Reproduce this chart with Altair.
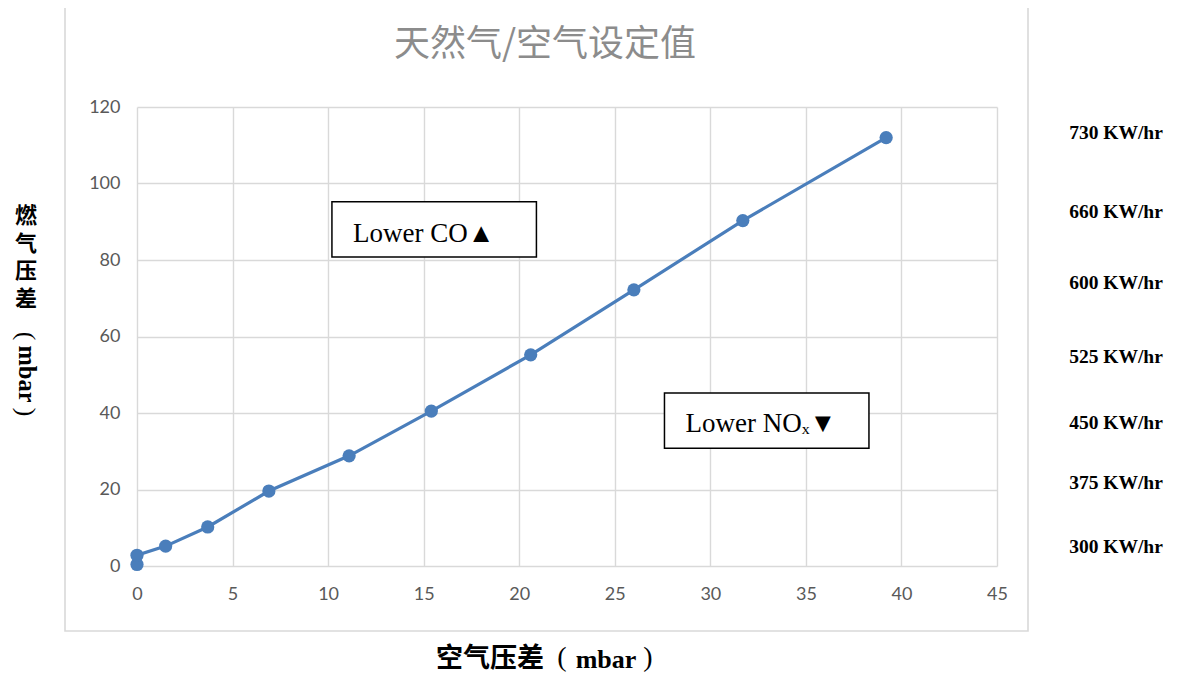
import altair as alt
import pandas as pd

# ---- data ----
air_dp = [0, 0, 1.5, 3.7, 6.9, 11.1, 15.4, 20.6, 26.0, 31.7, 39.2]
gas_dp = [0.4, 2.8, 5.2, 10.2, 19.6, 28.8, 40.5, 55.2, 72.2, 90.3, 112.0]

kw_labels = ["730 KW/hr", "660 KW/hr", "600 KW/hr", "525 KW/hr",
             "450 KW/hr", "375 KW/hr", "300 KW/hr"]
kw_label_y = [113.2, 92.5, 74.0, 54.6, 37.4, 21.7, 5.0]

note_text = ["Lower CO▲", "Lower NOₓ▼"]
note_x1 = [10.2, 27.6]
note_x2 = [20.9, 38.3]
note_y1 = [95.2, 45.2]
note_y2 = [80.8, 30.8]
note_tx = [11.3, 28.7]
note_ty = [86.8, 37.2]

x_ticks = [0, 5, 10, 15, 20, 25, 30, 35, 40, 45]
y_ticks = [0, 20, 40, 60, 80, 100, 120]

TITLE = "天然气/空气设定值"
X_TITLE_CJK = "空气压差"
Y_TITLE_CHARS = ["燃", "气", "压", "差"]
UNIT = "mbar"

BLUE = "#4a7ebb"
GRID = "#d9d9d9"

df = pd.DataFrame({"air": air_dp, "gas": gas_dp, "idx": list(range(len(air_dp)))})
kw_df = pd.DataFrame({"label": kw_labels, "ky": kw_label_y})
note_df = pd.DataFrame({"text": note_text, "x1": note_x1, "x2": note_x2,
                        "y1": note_y1, "y2": note_y2, "tx": note_tx, "ty": note_ty})

xscale = alt.Scale(domain=[0, 45], nice=False, zero=False)
yscale = alt.Scale(domain=[0, 120], nice=False, zero=False)

xaxis = alt.Axis(values=x_ticks, title=None, grid=True, gridColor=GRID, gridWidth=1.4,
                 domain=False, ticks=False, labelFont="Lato", labelFontSize=18,
                 labelColor="#595959", labelPadding=19, labelFlush=False)
yaxis = alt.Axis(values=y_ticks, title=None, grid=True, gridColor=GRID, gridWidth=1.4,
                 domain=False, ticks=False, labelFont="Lato", labelFontSize=18,
                 labelColor="#595959", labelPadding=17, labelFlush=False)

one = alt.Data(values=[{}])

frame = alt.Chart(one).mark_rect(fillOpacity=0, stroke=GRID, strokeWidth=1.6).encode(
    x=alt.value(-72), x2=alt.value(891), y=alt.value(-104), y2=alt.value(524))

line = alt.Chart(df).mark_line(color=BLUE, strokeWidth=3.2).encode(
    x=alt.X("air:Q", scale=xscale, axis=xaxis),
    y=alt.Y("gas:Q", scale=yscale, axis=yaxis),
    order="idx:Q")

pts = alt.Chart(df).mark_point(filled=True, color=BLUE, size=175, opacity=1).encode(
    x=alt.X("air:Q", scale=xscale),
    y=alt.Y("gas:Q", scale=yscale))

boxes = alt.Chart(note_df).mark_rect(fill="white", stroke="black", strokeWidth=1.5).encode(
    x=alt.X("x1:Q", scale=xscale), x2="x2:Q",
    y=alt.Y("y1:Q", scale=yscale), y2="y2:Q")

notes = alt.Chart(note_df).mark_text(align="left", baseline="middle",
                                     font="Liberation Serif, DejaVu Sans", fontSize=27,
                                     color="black").encode(
    x=alt.X("tx:Q", scale=xscale), y=alt.Y("ty:Q", scale=yscale), text="text:N")

kw = alt.Chart(kw_df).mark_text(align="center", baseline="middle",
                                font="Liberation Serif", fontWeight="bold",
                                fontSize=19.5, color="black").encode(
    x=alt.value(979), y=alt.Y("ky:Q", scale=yscale), text="label:N")

title = alt.Chart(one).mark_text(align="center", baseline="middle",
                                 font="Noto Sans CJK SC", fontSize=36,
                                 color="#8c8c8c").encode(
    x=alt.value(408), y=alt.value(-62), text=alt.value(TITLE))

# x-axis title, pieces
xt_cjk = alt.Chart(one).mark_text(align="center", baseline="middle",
                                  font="Noto Sans CJK SC", fontWeight="bold",
                                  fontSize=27, color="black").encode(
    x=alt.value(353), y=alt.value(552), text=alt.value(X_TITLE_CJK))
xt_lp = alt.Chart(one).mark_text(align="center", baseline="middle",
                                 font="Liberation Serif", fontSize=28, color="black").encode(
    x=alt.value(425), y=alt.value(551), text=alt.value("("))
xt_unit = alt.Chart(one).mark_text(align="center", baseline="middle",
                                   font="Liberation Serif", fontWeight="bold",
                                   fontSize=26, color="black").encode(
    x=alt.value(469), y=alt.value(553), text=alt.value(UNIT))
xt_rp = alt.Chart(one).mark_text(align="center", baseline="middle",
                                 font="Liberation Serif", fontSize=28, color="black").encode(
    x=alt.value(511), y=alt.value(551), text=alt.value(")"))

# y-axis title, pieces (one upright character per mark, then rotated unit)
yt_chars = []
for i, ch in enumerate(Y_TITLE_CHARS):
    yt_chars.append(
        alt.Chart(one).mark_text(align="center", baseline="middle",
                                 font="Noto Sans CJK SC", fontWeight="bold",
                                 fontSize=22, color="black").encode(
            x=alt.value(-111), y=alt.value(109 + i * 27.5), text=alt.value(ch)))
yt_lp = alt.Chart(one).mark_text(align="center", baseline="middle", angle=90,
                                 font="Liberation Serif", fontSize=26, color="black").encode(
    x=alt.value(-111), y=alt.value(229), text=alt.value("("))
yt_unit = alt.Chart(one).mark_text(align="center", baseline="middle", angle=90,
                                   font="Liberation Serif", fontWeight="bold",
                                   fontSize=24.5, color="black").encode(
    x=alt.value(-111), y=alt.value(267), text=alt.value(UNIT))
yt_rp = alt.Chart(one).mark_text(align="center", baseline="middle", angle=90,
                                 font="Liberation Serif", fontSize=26, color="black").encode(
    x=alt.value(-111), y=alt.value(305), text=alt.value(")"))

chart = alt.layer(frame, line, boxes, pts, notes, kw, title,
                  xt_cjk, xt_lp, xt_unit, xt_rp,
                  *yt_chars, yt_lp, yt_unit, yt_rp).properties(
    width=860, height=459,
    padding={"left": 129, "top": 99, "right": 173, "bottom": 116},
    autosize=alt.AutoSizeParams(type="none"),
    background="white",
).configure_view(stroke=None)

chart.save("out.html", embed_options={"renderer": "svg", "actions": False})
